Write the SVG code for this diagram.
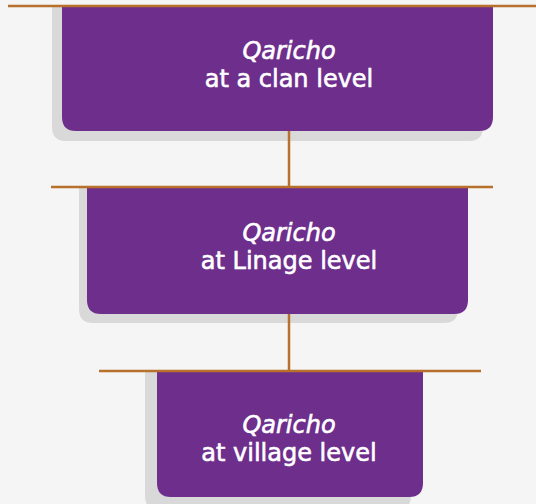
<svg xmlns="http://www.w3.org/2000/svg" width="536" height="504" viewBox="0 0 536 504">
<style>
.bg{fill:#f5f5f5}
.shadow{fill:#d9d9d9}
.box{fill:#6d2e8c}
.ln{stroke:#b8702c;stroke-width:2.5;fill:none}
.t{font-family:"DejaVu Sans",sans-serif;font-size:24px;fill:#ffffff;stroke:#ffffff;stroke-width:0.6;text-anchor:middle}
.i{font-style:italic}
</style>
<rect class="bg" x="0" y="0" width="536" height="504"/>
<g id="node1">
<path class="shadow" d="M52,7 H483 V127 Q483,141 469,141 H66 Q52,141 52,127 Z"/>
<path class="box" d="M62,7 H493 V117 Q493,131 479,131 H76 Q62,131 62,117 Z"/>
<text class="t i" x="289" y="59">Qaricho</text>
<text class="t" x="289" y="87">at a clan level</text>
</g>
<g id="node2">
<path class="shadow" d="M79,188 H458 V309 Q458,323 444,323 H93 Q79,323 79,309 Z"/>
<path class="box" d="M87,188 H468 V300 Q468,314 454,314 H101 Q87,314 87,300 Z"/>
<text class="t i" x="289" y="241">Qaricho</text>
<text class="t" x="289" y="269">at Linage level</text>
</g>
<g id="node3">
<path class="shadow" d="M145,372 H411 V496 Q411,510 397,510 H159 Q145,510 145,496 Z"/>
<path class="box" d="M157,372 H423 V483 Q423,497 409,497 H171 Q157,497 157,483 Z"/>
<text class="t i" x="289" y="433">Qaricho</text>
<text class="t" x="289" y="461">at village level</text>
</g>
<g id="connectors">
<line class="ln" x1="8" y1="6" x2="536" y2="6"/>
<line class="ln" x1="289" y1="131" x2="289" y2="187"/>
<line class="ln" x1="51" y1="187" x2="493" y2="187"/>
<line class="ln" x1="289" y1="314" x2="289" y2="371"/>
<line class="ln" x1="99" y1="371" x2="481" y2="371"/>
</g>
</svg>
